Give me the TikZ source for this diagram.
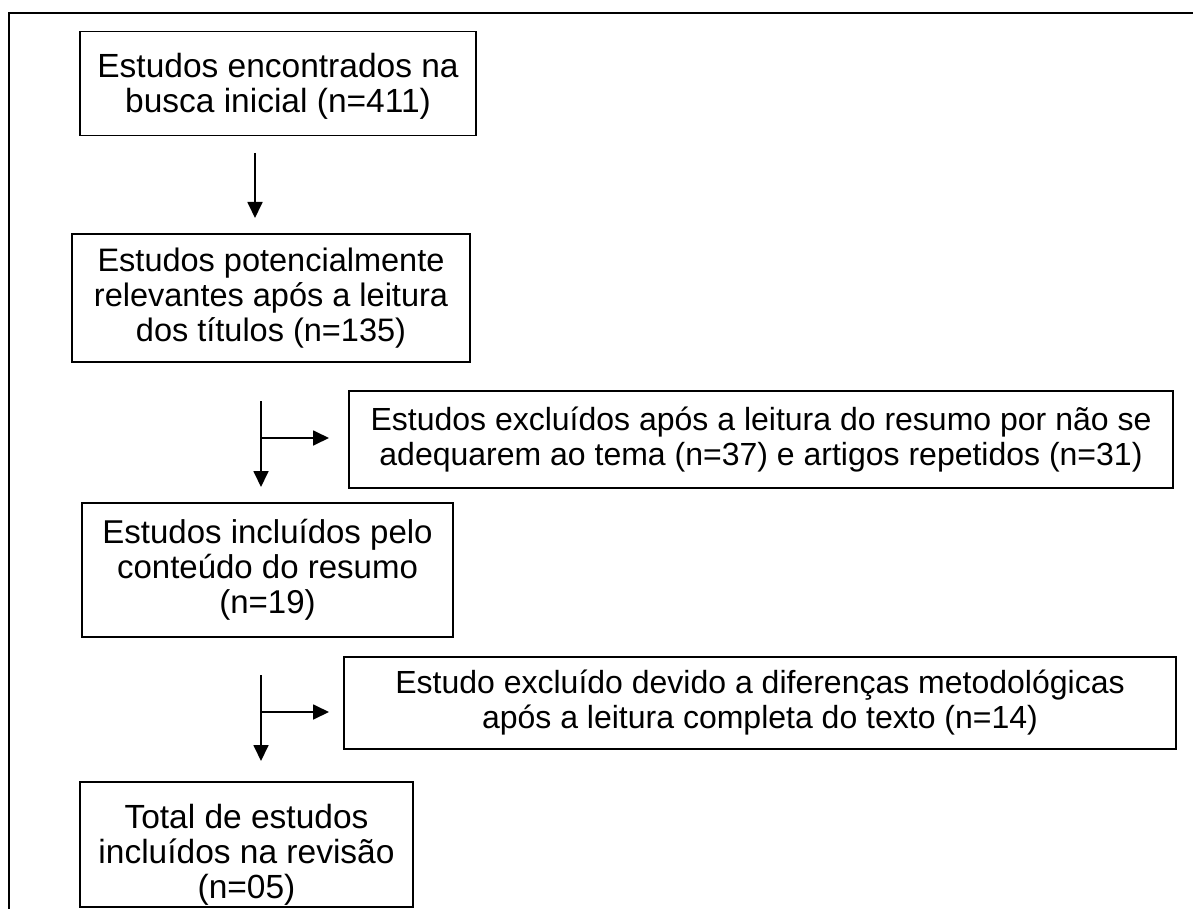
\documentclass[tikz,border=0pt]{standalone}
\usepackage{fontspec}
\setmainfont{Liberation Sans}
\usetikzlibrary{arrows.meta}
\begin{document}
\begin{tikzpicture}[x=1pt,y=-1pt,
  box/.style={draw, line width=1.6pt, align=center, inner sep=0pt,
    font=\fontsize{33.5}{35}\selectfont},
  wide/.style={box, font=\fontsize{32}{35}\selectfont},
  arr/.style={line width=1.8pt, -{Triangle[width=15pt,length=16pt]}}]
\useasboundingbox (0,0) rectangle (1193,909);
% outer frame (open at right and bottom)
\coordinate (fr1) at (1193,13);
\coordinate (fr2) at (9,13);
\coordinate (fr3) at (9,909);
\draw[line width=2pt] (fr1) -- (fr2) -- (fr3);
% boxes
\node[box, minimum width=396pt, minimum height=104pt] (b1) at (278,83.5)
  {\rule{0pt}{30pt}Estudos encontrados na\\busca inicial (n=411)};
\node[box, font=\fontsize{32.5}{35}\selectfont, minimum width=398pt, minimum height=128pt] (b2) at (271,298)
  {Estudos potencialmente\\relevantes após a leitura\\dos títulos (n=135)};
\node[wide, minimum width=824pt, minimum height=97pt] (b3) at (761,439.5)
  {Estudos excluídos após a leitura do resumo por não se\\
   adequarem ao tema (n=37) e artigos repetidos (n=31)};
\node[box, font=\fontsize{33}{35}\selectfont, minimum width=371pt, minimum height=134pt] (b4) at (267.5,570)
  {Estudos incluídos pelo\\conteúdo do resumo\\(n=19)};
\node[wide, minimum width=832pt, minimum height=92pt] (b5) at (760,703)
  {Estudo excluído devido a diferenças metodológicas\\
   após a leitura completa do texto (n=14)};
\node[box, minimum width=333pt, minimum height=125pt] (b6) at (246.5,844.5)
  {\rule{0pt}{44pt}Total de estudos\\incluídos na revisão\\(n=05)};
% arrows
\coordinate (a1s) at (255,153);
\coordinate (a1e) at (255,218);
\draw[arr] (a1s) -- (a1e);
\coordinate (a2s) at (261,401);
\coordinate (a2e) at (261,487);
\coordinate (a2b) at (261,438);
\coordinate (a2h) at (329,438);
\draw[arr] (a2s) -- (a2e);
\draw[arr] (a2b) -- (a2h);
\coordinate (a3s) at (261,675);
\coordinate (a3e) at (261,761);
\coordinate (a3b) at (261,712);
\coordinate (a3h) at (329,712);
\draw[arr] (a3s) -- (a3e);
\draw[arr] (a3b) -- (a3h);
\end{tikzpicture}
\end{document}
